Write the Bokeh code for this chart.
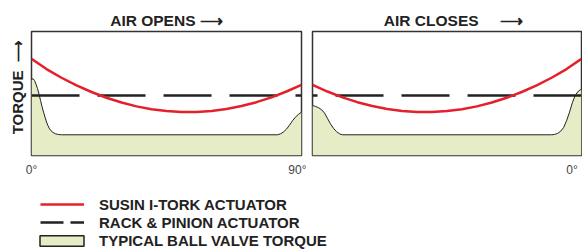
from bokeh.plotting import figure
from bokeh.models import Range1d, FixedTicker, Legend, LegendItem
from bokeh.layouts import row, column
from bokeh.embed import file_html
from bokeh.resources import INLINE

# ---------------- data (torque in % of panel height, angle in degrees) ----------------
itork_angle = [0, 5, 10, 15, 20, 25, 30, 35, 40, 45, 50, 55, 60, 65, 70, 75, 80, 85, 90]
itork_torque = [78, 69.7, 62.7, 56.6, 51.2, 46.6, 42.7, 39.6, 37.3, 35.8, 35.1, 35.1,
                35.9, 37.5, 39.9, 43.0, 46.9, 51.6, 57.0]

rack_angle = [0, 90]
rack_torque = [48.4, 48.4]

open_angle = [0, 0.5, 1, 1.5, 2, 2.5, 3, 3.5, 4, 4.5, 5, 5.5, 6, 7, 8, 9, 10,
              82, 83, 84, 85, 86, 87, 88, 89, 90]
open_valve_torque = [61, 62, 60.5, 57.5, 54, 49.5, 44.5, 39.5, 35, 31, 27, 24, 21.5, 18.8,
                     17.5, 16.9, 16.7, 16.7, 17.5, 19, 21.3, 24.5, 28, 31, 33.2, 35]

close_angle = [0, 1, 2, 3, 4, 5, 6, 7, 8, 9, 10, 80, 81, 82, 83, 84, 85, 86, 87, 88, 89, 90]
close_valve_torque = [53.5, 52, 49, 43, 35, 28, 22.5, 19.5, 17.8, 17, 16.7, 16.7, 17.6, 19.3,
                      22, 25.6, 30, 34.3, 37, 38.6, 39.6, 40.3]

panel_titles = ["AIR OPENS \u27f6",
                "\u00a0\u00a0\u00a0AIR CLOSES\u00a0\u00a0\u00a0\u00a0\u00a0\u27f6"]
y_label = "\u00a0\u00a0\u00a0TORQUE\u00a0\u00a0\u27f6"
open_ticks = [0, 90]
open_tick_labels = {0: "0\u00b0", 90: "90\u00b0"}
close_ticks = [0]
close_tick_labels = {0: "0\u00b0"}
legend_labels = ["SUSIN I-TORK ACTUATOR", "RACK & PINION ACTUATOR", "TYPICAL BALL VALVE TORQUE"]

RED = "#e4202a"
BLACK = "#222222"
GREEN = "#e6edc6"
BOLD_FONT = "Liberation Sans"
TICK_FONT = "Liberation Sans Narrow, Liberation Sans"


def make_panel(title, x_range, width, mb_left, mb_right, valve_angle, valve_torque,
               ticks, tick_labels, label_align, with_yaxis):
    p = figure(width=width, height=185, x_range=x_range, y_range=Range1d(0, 100),
               output_backend="svg", toolbar_location=None, title=title,
               min_border_left=mb_left, min_border_right=mb_right,
               min_border_top=31, min_border_bottom=30,
               y_axis_location="left" if with_yaxis else None)
    p.title.align = "center"
    p.title.text_font = BOLD_FONT
    p.title.text_font_style = "bold"
    p.title.text_font_size = "15.5px"
    p.title.text_color = BLACK
    p.title.standoff = 6
    p.xgrid.visible = False
    p.ygrid.visible = False
    p.outline_line_color = "#333333"
    p.outline_line_width = 1.5
    p.background_fill_color = "white"

    p.varea(x=valve_angle, y1=0, y2=valve_torque, fill_color=GREEN)
    p.line(valve_angle, valve_torque, line_color=BLACK, line_width=1)
    p.line(rack_angle, rack_torque, line_color=BLACK, line_width=2.5, line_dash="48 18")
    p.line(itork_angle, itork_torque, line_color=RED, line_width=2.5)

    xa = p.xaxis[0]
    xa.ticker = FixedTicker(ticks=ticks)
    xa.major_label_overrides = tick_labels
    xa.axis_line_color = None
    xa.major_tick_line_color = None
    xa.minor_tick_line_color = None
    xa.major_tick_out = 0
    xa.major_label_standoff = 7
    xa.major_label_text_font = TICK_FONT
    xa.major_label_text_font_size = "12px"
    xa.major_label_text_color = "#444444"
    xa.major_label_text_align = label_align

    if with_yaxis:
        ya = p.yaxis[0]
        ya.ticker = FixedTicker(ticks=[])
        ya.axis_line_color = None
        ya.major_tick_line_color = None
        ya.minor_tick_line_color = None
        ya.major_tick_out = 0
        ya.major_label_standoff = 0
        ya.axis_label = y_label
        ya.axis_label_standoff = 6
        ya.axis_label_text_font = BOLD_FONT
        ya.axis_label_text_font_style = "bold"
        ya.axis_label_text_font_size = "15px"
        ya.axis_label_text_color = BLACK
    return p


left = make_panel(panel_titles[0], Range1d(0, 90), 306, 31, 5,
                  open_angle, open_valve_torque, open_ticks, open_tick_labels, "center", True)
right = make_panel(panel_titles[1], Range1d(90, 0), 276, 6, 1,
                   close_angle, close_valve_torque, close_ticks, close_tick_labels, "right", False)

# ---------------- legend strip ----------------
leg = figure(width=582, height=65, output_backend="svg", toolbar_location=None,
             x_axis_location=None, y_axis_location=None, min_border=0,
             x_range=Range1d(0, 90), y_range=Range1d(0, 100))
leg.grid.visible = False
leg.outline_line_color = None
# hidden copies of the series, used only to draw the legend swatches
r_red = leg.line(itork_angle, itork_torque, line_color=RED, line_width=2.5, visible=False)
r_rack = leg.line(rack_angle, rack_torque, line_color=BLACK, line_width=2.5,
                  line_dash="23 7", visible=False)
r_valve = leg.patch(open_angle, open_valve_torque, fill_color=GREEN,
                    line_color=BLACK, line_width=1.5, visible=False)

common = dict(padding=0, margin=0, border_line_color=None,
              background_fill_alpha=0, label_text_font=BOLD_FONT,
              label_text_font_style="bold", label_text_font_size="15px",
              label_text_color=BLACK, label_height=18)
legA = Legend(items=[LegendItem(label=legend_labels[0], renderers=[r_red]),
                     LegendItem(label=legend_labels[1], renderers=[r_rack])],
              location=(40, 19), glyph_width=44, glyph_height=18, label_standoff=15,
              spacing=-1, **common)
legB = Legend(items=[LegendItem(label=legend_labels[2], renderers=[r_valve])],
              location=(34, 1), glyph_width=55, glyph_height=13, label_standoff=10,
              spacing=0, **common)
leg.add_layout(legA)
leg.add_layout(legB)

layout = column(row(left, right), leg)

open("out.html", "w").write(file_html(layout, INLINE))
